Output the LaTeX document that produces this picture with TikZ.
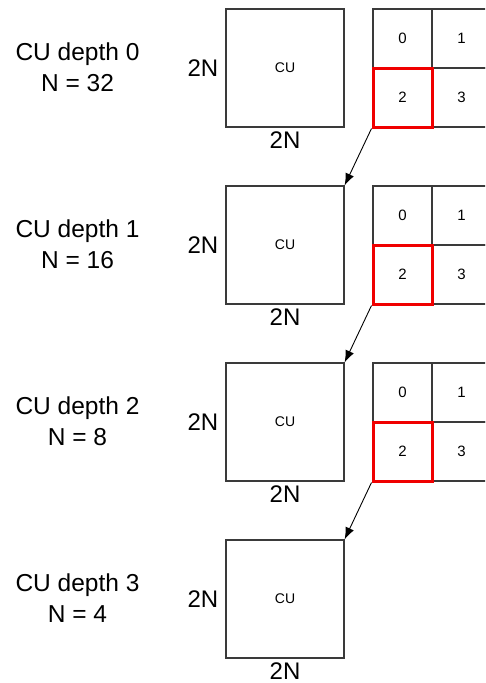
\documentclass[tikz,border=0pt]{standalone}
\usepackage{fontspec}
\setmainfont{Liberation Sans}
\usetikzlibrary{arrows.meta, positioning}
\definecolor{EdgeGray}{HTML}{3A3A3A}
\definecolor{MarkRed}{HTML}{F00000}
\tikzset{
  cubox/.style={draw=EdgeGray, line width=1.2pt, minimum size=118pt, inner sep=0pt, font=\fontsize{14}{16}\selectfont},
  cellbox/.style={draw=EdgeGray, line width=1.2pt, minimum size=59pt, inner sep=0pt, font=\fontsize{15}{17}\selectfont},
  redcell/.style={draw=MarkRed, line width=3pt, minimum size=59pt, inner sep=0pt},
  sizelabel/.style={font=\fontsize{24}{26}\selectfont, inner sep=0pt},
  depthlabel/.style={align=center, font=\fontsize{24.5}{31}\selectfont},
  arrow/.style={-{Latex[length=12pt, width=9pt]}, line width=0.9pt, draw=black}
}

\begin{document}
\begin{tikzpicture}[x=1pt, y=-1pt]
\clip (0,0) rectangle (485,683);
% one row per depth
\foreach \i/\n in {0/32, 1/16, 2/8, 3/4} {
  \node[cubox] (cu\i) at (285, 68+177*\i) {CU};
  \node[sizelabel, left=7pt of cu\i] (side\i) {2N};
  \node[sizelabel, below=3.5pt of cu\i] (base\i) {2N};
  \node[depthlabel] (depth\i) at (77.5, 67+177*\i) {CU depth \i\\N = \n};
}
% split into four, sub-CU 2 goes one level down
\foreach \i in {0,1,2} {
  \node[cellbox] (cell\i-0) at (402.5, 38.5+177*\i) {0};
  \node[cellbox] (cell\i-1) at (461.5, 38.5+177*\i) {1};
  \node[cellbox] (cell\i-3) at (461.5, 97.5+177*\i) {3};
  \node[cellbox] (cell\i-2) at (402.5, 97.5+177*\i) {2};
  \node[redcell] (pick\i) at (cell\i-2) {};
  \pgfmathtruncatemacro\j{\i+1}
  \draw[arrow] (pick\i.south west) -- (cu\j.north east);
}
\end{tikzpicture}
\end{document}
